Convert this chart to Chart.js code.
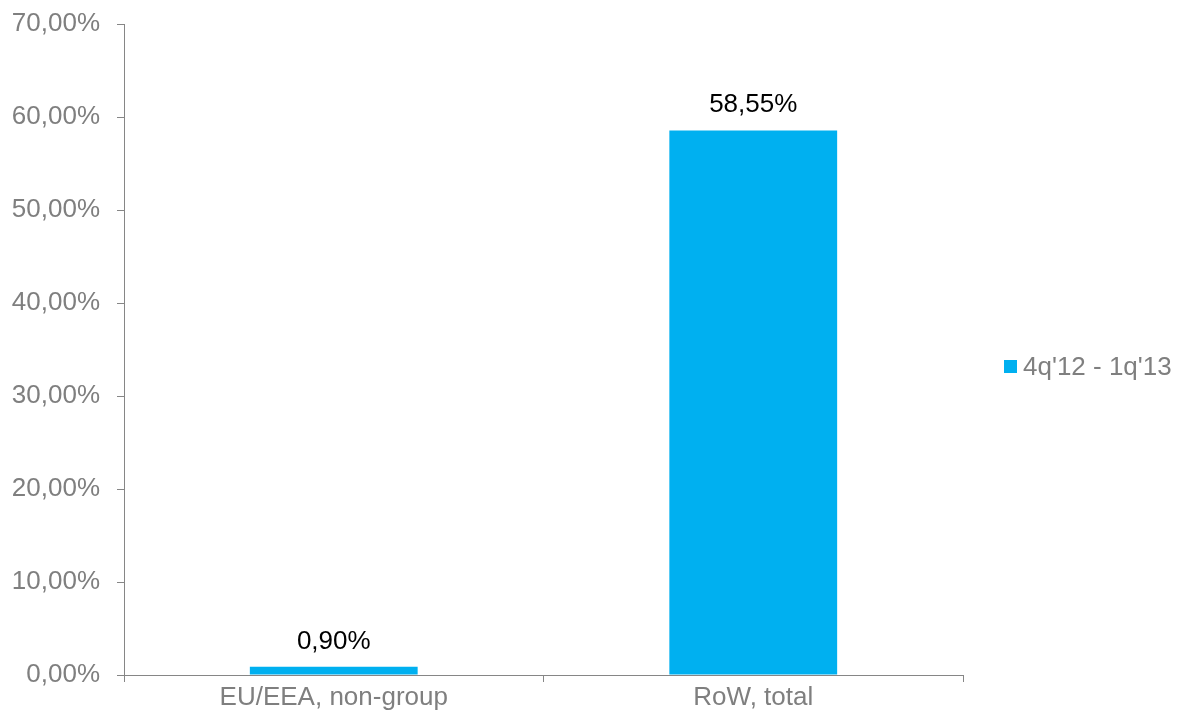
<!DOCTYPE html>
<html>
<head>
<meta charset="utf-8">
<script src="https://cdn.jsdelivr.net/npm/chart.js@4/dist/chart.umd.min.js"></script>
<style>
  html, body { margin: 0; padding: 0; background: #ffffff; }
  #wrap { width: 1180px; height: 722px; }
</style>
</head>
<body>
<div id="wrap"><canvas id="c" width="1180" height="722"></canvas></div>
<script>
const categories = ["EU/EEA, non-group", "RoW, total"];
const seriesLabel = "4q'12 - 1q'13";
const seriesValues = [0.90, 58.55];
const yTicks = [0, 10, 20, 30, 40, 50, 60, 70];

const BAR_COLOR = '#00B0F0';
const AXIS_COLOR = '#868686';
const TEXT_GRAY = '#7F7F7F';
const FONT = '"Liberation Sans", Arial, sans-serif';

function fmt(v) {
  return v.toFixed(2).replace('.', ',') + '%';
}

const valueLabels = {
  id: 'valueLabels',
  afterDatasetsDraw(chart) {
    const ctx = chart.ctx;
    const meta = chart.getDatasetMeta(0);
    ctx.save();
    ctx.font = '26px ' + FONT;
    ctx.fillStyle = '#000000';
    ctx.textAlign = 'center';
    ctx.textBaseline = 'alphabetic';
    meta.data.forEach((bar, i) => {
      ctx.fillText(fmt(chart.data.datasets[0].data[i]), bar.x, bar.y - 18);
    });
    ctx.restore();
  }
};

const sideLegend = {
  id: 'sideLegend',
  afterDraw(chart) {
    const ctx = chart.ctx;
    const ds = chart.data.datasets[0];
    const cy = 367;
    ctx.save();
    ctx.fillStyle = ds.backgroundColor;
    ctx.fillRect(1004, cy - 7, 13, 13);
    ctx.font = '26px ' + FONT;
    ctx.fillStyle = TEXT_GRAY;
    ctx.textAlign = 'left';
    ctx.textBaseline = 'middle';
    ctx.fillText(ds.label, 1023, cy + 1);
    ctx.restore();
  }
};

new Chart(document.getElementById('c'), {
  type: 'bar',
  data: {
    labels: categories,
    datasets: [{
      label: seriesLabel,
      data: seriesValues,
      backgroundColor: BAR_COLOR,
      borderWidth: 0,
      barPercentage: 0.4,
      categoryPercentage: 1.0
    }]
  },
  options: {
    responsive: false,
    animation: false,
    devicePixelRatio: 1,
    layout: { padding: { top: 24, right: 217, bottom: 0, left: 0 } },
    plugins: {
      legend: { display: false },
      tooltip: { enabled: false }
    },
    scales: {
      x: {
        grid: {
          display: true,
          offset: true,
          drawOnChartArea: false,
          drawTicks: true,
          tickLength: 7,
          color: AXIS_COLOR
        },
        border: { display: true, color: AXIS_COLOR, width: 1 },
        ticks: {
          color: TEXT_GRAY,
          font: { family: FONT, size: 26 },
          padding: 0,
          maxRotation: 0
        },
        afterFit(scale) {
          scale.height = 47;
          scale.paddingLeft = 0;
          scale.paddingRight = 0;
        }
      },
      y: {
        min: 0,
        max: 70,
        afterBuildTicks(scale) {
          scale.ticks = yTicks.map(v => ({ value: v }));
        },
        grid: {
          display: true,
          drawOnChartArea: false,
          drawTicks: true,
          tickLength: 7,
          color: AXIS_COLOR
        },
        border: { display: true, color: AXIS_COLOR, width: 1 },
        ticks: {
          color: TEXT_GRAY,
          font: { family: FONT, size: 26 },
          padding: 17,
          callback: (v) => fmt(v)
        },
        afterFit(scale) {
          scale.width = 124;
          scale.paddingTop = 0;
          scale.paddingBottom = 0;
        }
      }
    }
  },
  plugins: [valueLabels, sideLegend]
});
</script>
</body>
</html>
